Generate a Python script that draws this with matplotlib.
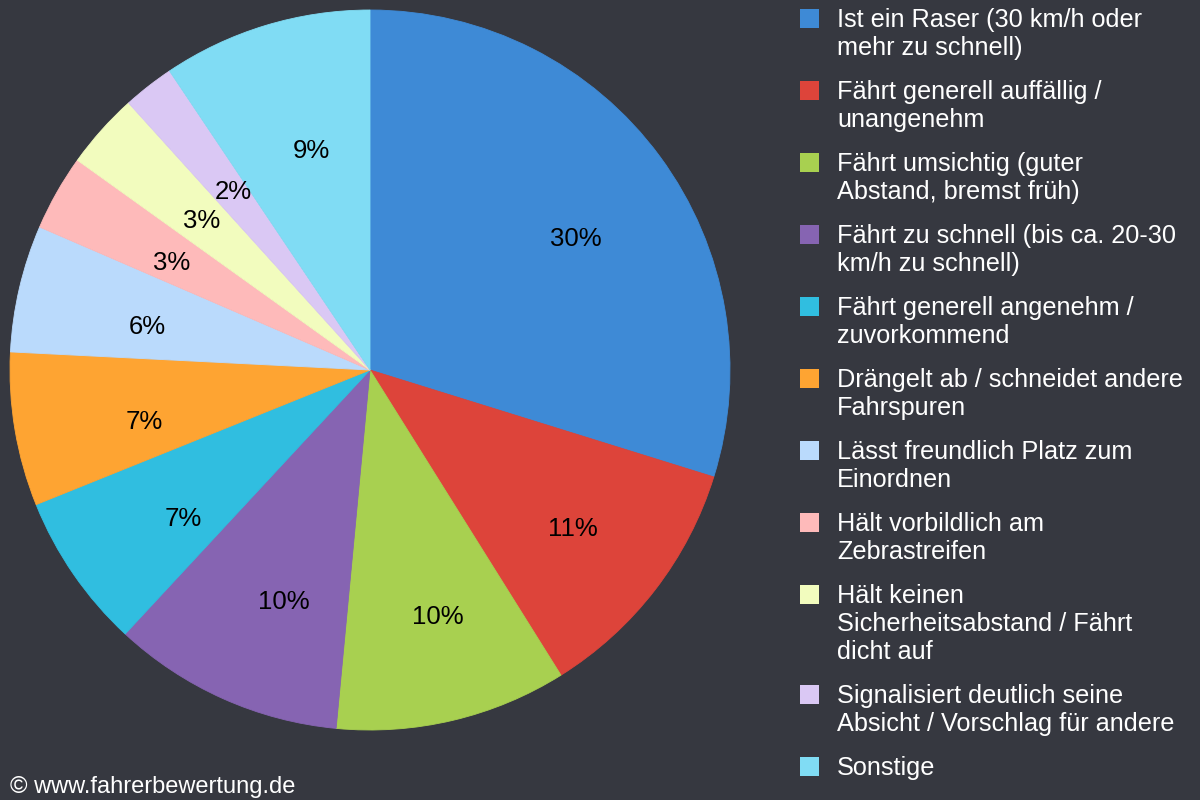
import matplotlib
matplotlib.use("Agg")
import matplotlib.pyplot as plt
from matplotlib.transforms import ScaledTranslation
from matplotlib.patches import Rectangle

categories = [
    "Ist ein Raser (30 km/h oder\nmehr zu schnell)",
    "Fährt generell auffällig /\nunangenehm",
    "Fährt umsichtig (guter\nAbstand, bremst früh)",
    "Fährt zu schnell (bis ca. 20-30\nkm/h zu schnell)",
    "Fährt generell angenehm /\nzuvorkommend",
    "Drängelt ab / schneidet andere\nFahrspuren",
    "Lässt freundlich Platz zum\nEinordnen",
    "Hält vorbildlich am\nZebrastreifen",
    "Hält keinen\nSicherheitsabstand / Fährt\ndicht auf",
    "Signalisiert deutlich seine\nAbsicht / Vorschlag für andere",
    "Sonstige",
]
values = [29.8, 11.3, 10.4, 10.4, 7.0, 6.9, 5.7, 3.4, 3.4, 2.3, 9.4]
colors = ["#3e8ad6", "#dd443a", "#a8d050", "#8664b2", "#30bee0", "#fea432",
          "#badafc", "#febaba", "#f2fcbe", "#dac8f4", "#80dcf4"]

BG = "#363840"
FONT = ["Liberation Sans", "DejaVu Sans"]
plt.rcParams["font.family"] = FONT

W, H = 1200, 800
fig = plt.figure(figsize=(12, 8), dpi=100, facecolor=BG)

cx, cy, r = 370, 370, 360
ax = fig.add_axes([(cx - r) / W, (H - cy - r) / H, 2 * r / W, 2 * r / H])
ax.set_facecolor(BG)
wedges, texts, autotexts = ax.pie(
    values, colors=colors, startangle=90, counterclock=False,
    autopct="%.0f%%", pctdistance=0.67, radius=1.0,
    wedgeprops=dict(linewidth=0.6),
    textprops=dict(color="black", fontsize=18.5),
)
for w in wedges:
    w.set_edgecolor(w.get_facecolor())
ax.set_xlim(-1, 1)
ax.set_ylim(-1, 1)
ax.axis("off")

shift = ScaledTranslation(12 / 100, -12 / 100, fig.dpi_scale_trans)
for t in autotexts:
    t.set_transform(t.get_transform() + shift)

# legend
line_h = 28
gap = 16
base = 27
for cat, col in zip(categories, colors):
    nlines = cat.count("\n") + 1
    fig.patches.append(Rectangle((800 / W, 1 - (base + 1) / H), 19 / W, 19 / H,
                                 transform=fig.transFigure, facecolor=col,
                                 edgecolor="none"))
    for i, line in enumerate(cat.split("\n")):
        fig.text(837 / W, 1 - (base + i * line_h) / H, line, color="white",
                 fontsize=18.2, va="baseline", ha="left")
    base += nlines * line_h + gap

fig.text(10 / W, 1 - 793 / H, "© www.fahrerbewertung.de", color="white",
         fontsize=17, va="baseline", ha="left")

fig.savefig("out.png", dpi=100, facecolor=BG)
